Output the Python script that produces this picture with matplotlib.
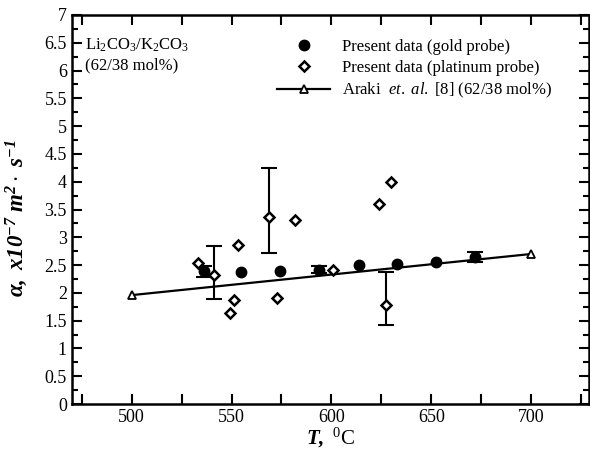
import matplotlib
matplotlib.use("Agg")
import matplotlib.pyplot as plt
from matplotlib.lines import Line2D
from matplotlib.ticker import MultipleLocator

plt.rcParams['font.family'] = ['Liberation Serif', 'DejaVu Serif']
plt.rcParams['mathtext.fontset'] = 'custom'
plt.rcParams['mathtext.rm'] = 'Liberation Serif'
plt.rcParams['mathtext.it'] = 'Liberation Serif:italic'
plt.rcParams['mathtext.bf'] = 'Liberation Serif:bold:italic'

# gold probe (filled circles)
gold_T = [536, 555, 574.5, 594, 614, 633, 652.5, 672]
gold_a = [2.40, 2.37, 2.39, 2.42, 2.50, 2.52, 2.55, 2.64]
gold_eb_T = [536, 594, 672]
gold_eb_lo = [2.29, 2.36, 2.56]
gold_eb_hi = [2.48, 2.48, 2.74]

# platinum probe (open diamonds)
plat_T = [533, 541, 549, 551, 553, 569, 573, 582, 601, 624, 627.5, 630]
plat_a = [2.54, 2.32, 1.64, 1.87, 2.86, 3.37, 1.90, 3.31, 2.42, 3.60, 1.78, 4.00]
plat_eb_T = [541, 569, 627.5]
plat_eb_lo = [1.89, 2.71, 1.42]
plat_eb_hi = [2.84, 4.25, 2.38]

# Araki et al. [8]
araki_T = [500, 700]
araki_a = [1.96, 2.70]

fig = plt.figure(figsize=(5.9, 4.53), dpi=100)
ax = fig.add_axes([0.1215, 0.108, 0.877, 0.859])

# error bars
for T, lo, hi in zip(gold_eb_T, gold_eb_lo, gold_eb_hi):
    ax.errorbar([T], [(lo + hi) / 2], yerr=[[(hi - lo) / 2], [(hi - lo) / 2]],
                fmt='none', ecolor='black', elinewidth=1.5, capsize=6, capthick=1.5)
for T, lo, hi in zip(plat_eb_T, plat_eb_lo, plat_eb_hi):
    ax.errorbar([T], [(lo + hi) / 2], yerr=[[(hi - lo) / 2], [(hi - lo) / 2]],
                fmt='none', ecolor='black', elinewidth=1.5, capsize=6, capthick=1.5)

ax.plot(araki_T, araki_a, color='black', linewidth=1.6, marker='^', markersize=6,
        markerfacecolor='white', markeredgecolor='black', markeredgewidth=1.3, zorder=3)
ax.plot(gold_T, gold_a, linestyle='none', marker='o', markersize=7.5,
        markerfacecolor='black', markeredgecolor='black', zorder=4)
ax.plot(plat_T, plat_a, linestyle='none', marker='D', markersize=5.5,
        markerfacecolor='white', markeredgecolor='black', markeredgewidth=1.8, zorder=4)

ax.set_xlim(470, 729)
ax.set_ylim(0, 7)
ax.xaxis.set_major_locator(MultipleLocator(50))
ax.xaxis.set_minor_locator(MultipleLocator(25))
ax.yaxis.set_major_locator(MultipleLocator(0.5))
ax.yaxis.set_minor_locator(MultipleLocator(0.25))
ax.yaxis.set_major_formatter(matplotlib.ticker.FuncFormatter(lambda v, p: f"{v:g}"))
ax.tick_params(which='both', direction='in', top=True, right=True, width=1.5,
               labelsize=13)
ax.tick_params(which='major', length=7)
ax.tick_params(which='minor', length=4)
ax.tick_params(axis='x', which='minor', length=7)
for s in ax.spines.values():
    s.set_linewidth(1.8)

ax.set_xlabel(r"$\mathbf{T,}$ $^{0}$C", fontsize=15, labelpad=0)
ax.set_ylabel(r"$\mathbf{\alpha,\ x10^{-7}\ m^{2}\cdot\ s^{-1}}$", fontsize=16.5, labelpad=1)
ax.yaxis.set_label_coords(-0.08, 0.478)

ax.text(0.025, 0.897, r"Li$_2$CO$_3$/K$_2$CO$_3$" + "\n(62/38 mol%)", transform=ax.transAxes,
        fontsize=12, va='center', ha='left', linespacing=1.3)

handles = [
    Line2D([], [], linestyle='none', marker='o', markersize=7.5, color='black'),
    Line2D([], [], linestyle='none', marker='D', markersize=5.5, markerfacecolor='white',
           markeredgecolor='black', markeredgewidth=1.8),
    Line2D([], [], color='black', linewidth=1.6, marker='^', markersize=6,
           markerfacecolor='white', markeredgecolor='black', markeredgewidth=1.3),
]
labels = ["Present data (gold probe)", "Present data (platinum probe)",
          r"Araki  $\mathit{et.\ al.}$ [8] (62/38 mol%)"]
ax.legend(handles, labels, loc='upper left', bbox_to_anchor=(0.368, 0.977), frameon=False,
          fontsize=12, handlelength=3.2, handletextpad=0.7, labelspacing=0.3)

fig.savefig("out.png", dpi=100)
